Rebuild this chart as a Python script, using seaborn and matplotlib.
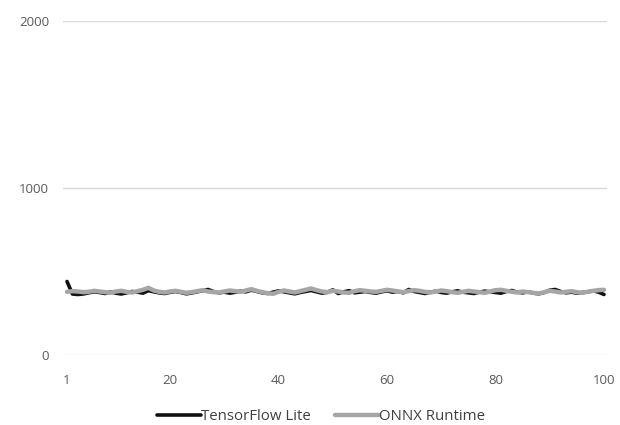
import numpy as np
import pandas as pd
import seaborn as sns
import matplotlib.pyplot as plt
from matplotlib.lines import Line2D

runs = list(range(1, 101))
tflite = [440, 365, 362, 365, 372, 378, 374, 368, 377, 370,
          365, 372, 380, 376, 370, 385, 378, 372, 368, 375,
          380, 374, 366, 371, 378, 385, 392, 380, 372, 376,
          370, 375, 382, 378, 388, 380, 372, 368, 376, 384,
          378, 372, 366, 374, 380, 386, 378, 370, 375, 390,
          368, 378, 385, 372, 376, 380, 374, 370, 378, 384,
          376, 380, 372, 392, 380, 374, 368, 376, 382, 374,
          370, 378, 384, 376, 372, 368, 376, 382, 378, 374,
          370, 380, 386, 376, 372, 378, 370, 366, 374, 388,
          392, 380, 372, 376, 370, 374, 378, 384, 376, 362]
onnx = [378, 382, 380, 376, 378, 384, 380, 376, 372, 380,
        384, 378, 374, 382, 390, 402, 386, 378, 374, 380,
        384, 378, 372, 376, 382, 388, 380, 376, 374, 380,
        386, 382, 378, 386, 394, 384, 376, 370, 366, 378,
        386, 380, 374, 382, 390, 398, 388, 380, 376, 384,
        380, 374, 372, 382, 388, 384, 380, 378, 384, 390,
        386, 380, 376, 382, 388, 384, 378, 374, 380, 386,
        382, 376, 372, 378, 384, 380, 376, 372, 380, 388,
        390, 384, 378, 374, 380, 376, 372, 368, 376, 384,
        380, 374, 378, 382, 376, 372, 378, 384, 388, 390]

df = pd.DataFrame({
    "run": runs * 2,
    "value": tflite + onnx,
    "series": ["TensorFlow Lite"] * 100 + ["ONNX Runtime"] * 100,
})

sns.set_theme(style="white")
plt.rcParams["font.family"] = ["Open Sans", "DejaVu Sans"]

fig, ax = plt.subplots(figsize=(6.2, 4.25), dpi=100)
fig.subplots_adjust(left=0.1016, right=0.979, top=0.95, bottom=0.165)

sns.lineplot(data=df, x="run", y="value", hue="series",
             palette={"TensorFlow Lite": "#111111", "ONNX Runtime": "#a6a6a6"},
             ax=ax, legend=False)
lines = ax.get_lines()
lines[0].set_linewidth(2.6)
lines[1].set_linewidth(3.2)
lines[0].set_zorder(2)
lines[1].set_zorder(3)

ax.set_ylim(0, 2000)
ax.set_yticks([0, 1000, 2000])
ax.set_xlim(0.26, 100.55)
ax.set_xticks([1, 20, 40, 60, 80, 100])
ax.yaxis.grid(True, color="#d9d9d9", linewidth=1)
ax.set_axisbelow(True)
for s in ax.spines.values():
    s.set_visible(False)
ax.tick_params(axis="both", length=0, labelsize=9.5, labelcolor="#595959")
ax.tick_params(axis="y", pad=10)
ax.tick_params(axis="x", pad=14)
ax.set_xlabel("")
ax.set_ylabel("")

handles = [Line2D([], [], color="#111111", lw=2.6),
           Line2D([], [], color="#a6a6a6", lw=3.2)]
fig.legend(handles, ["TensorFlow Lite", "ONNX Runtime"], loc="center",
           bbox_to_anchor=(0.518, 0.019), ncol=2, frameon=False, fontsize=10.8,
           handlelength=2.9, handletextpad=0.05, columnspacing=1.6,
           borderpad=0, labelcolor="#404040")

fig.savefig("out.png", dpi=100)
